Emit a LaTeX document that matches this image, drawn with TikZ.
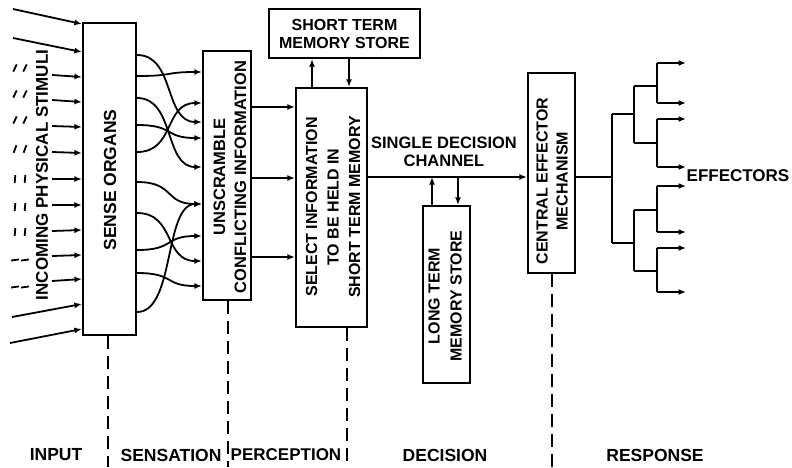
\documentclass[tikz,border=0pt]{standalone}
\usepackage{fontspec}
\setmainfont{Liberation Sans}
\usetikzlibrary{arrows.meta,calc}
\begin{document}
\begin{tikzpicture}[x=1pt,y=1pt,
  wire/.style={line width=1.8pt},
  arr/.style={wire,-{Latex[length=7.5pt,width=6pt]}},
  box/.style n args={2}{draw,line width=2.2pt,inner sep=0pt,minimum width=#1pt,minimum height=#2pt},
  txt/.style={font=\bfseries\fontsize{16}{20}\selectfont,align=center,inner sep=0pt},
  vtxt/.style={txt,rotate=90},
  lab/.style={font=\bfseries\fontsize{17.5}{22}\selectfont,inner sep=0pt},
  phase/.style={line width=1.6pt,dash pattern=on 13pt off 7pt},
  tick/.style={line width=1.8pt}
]
\fill[white] (0,0) rectangle (792,-467);
\useasboundingbox (0,0) rectangle (792,-467);

% boxes
\node[box={53}{312}] (sense) at (109.5,-179) {};
\node[box={48}{249}] (unscr) at (227,-175.5) {};
\node[box={151}{49}] (stm) at (344.5,-33.5) {};
\node[box={71}{239}] (sel) at (331.5,-207.5) {};
\node[box={47}{177}] (ltm) at (446.5,-294.5) {};
\node[box={47}{200}] (cem) at (551.5,-173) {};

% box texts
\node[vtxt,font=\bfseries\fontsize{17.5}{21}\selectfont] (tsense) at (110,-180) {SENSE ORGANS};
\node[vtxt,font=\bfseries\fontsize{16.5}{21}\selectfont] (tunscr) at (230,-177) {UNSCRAMBLE\\CONFLICTING INFORMATION};
\node[txt,font=\bfseries\fontsize{16}{18}\selectfont] (tstm) at (344.5,-34) {SHORT TERM\\MEMORY STORE};
\node[vtxt,font=\bfseries\fontsize{16}{21.5}\selectfont] (tsel) at (333,-207) {SELECT INFORMATION\\TO BE HELD IN\\SHORT TERM MEMORY};
\node[vtxt,font=\bfseries\fontsize{16}{22}\selectfont] (tltm) at (445,-296) {LONG TERM\\MEMORY STORE};
\node[vtxt,font=\bfseries\fontsize{16}{20}\selectfont] (tcem) at (552,-181) {CENTRAL EFFECTOR\\MECHANISM};
\node[vtxt,font=\bfseries\fontsize{17}{20}\selectfont] (tin) at (42,-175) {INCOMING PHYSICAL STIMULI};
\node[txt,font=\bfseries\fontsize{16.5}{18}\selectfont] (tchan) at (444,-152) {SINGLE DECISION\\CHANNEL};
\node[lab,font=\bfseries\fontsize{17}{20}\selectfont] (teff) at (738,-176) {EFFECTORS};

% phase labels
\node[lab] (lin) at (56,-455) {INPUT};
\node[lab] (lsen) at (171,-455) {SENSATION};
\node[lab,font=\bfseries\fontsize{17}{20}\selectfont] (lper) at (286,-455) {PERCEPTION};
\node[lab] (ldec) at (445,-455) {DECISION};
\node[lab] (lres) at (655,-455) {RESPONSE};

% incoming stimuli: long rays
\draw[arr] (13,-9) -- (sense.west |- 0,-24);
\draw[arr] (13,-38) -- (sense.west |- 0,-52);
\draw[arr] (12,-317) -- (sense.west |- 0,-304);
\draw[arr] (10,-343) -- (sense.west |- 0,-329);
% short rays
\foreach \y/\s in {77/75,102/100,127/126,153/152,179/179,205/205,230/231,255/256,279/281}
  \draw[arr] (52,-\s) -- (sense.west |- 0,-\y);
% broken marks left of the text
\foreach \m/\a in {68/65,94/65,120/65,149/70,179/85,207/85,232/85,260/8,287/8}{
  \draw[tick] (15,-\m) ++(\a+180:4) -- ++(\a:8);
  \draw[tick] (25,-\m) ++(\a+180:4) -- ++(\a:8);
}

% tangled links sense organs -> unscramble
\foreach \a/\b in {55/122,76/72,98/167,125/138,152/103,182/204,213/261,250/236,273/286,312/204}
  \draw[arr] (sense.east |- 0,-\a) .. controls +(38,0) and +(-38,0) .. (unscr.west |- 0,-\b);

% unscramble -> select
\foreach \y in {107,178,257}
  \draw[arr] (unscr.east |- 0,-\y) -- (sel.west |- 0,-\y);

% select <-> short term memory
\draw[arr] (sel.north -| 312,0) -- (stm.south -| 312,0);
\draw[arr] (stm.south -| 349,0) -- (sel.north -| 349,0);

% single decision channel
\draw[arr] (sel.east |- 0,-177) -- (cem.west |- 0,-177);
\coordinate (chA) at (432,-177);
\coordinate (chB) at (458,-177);
\draw[arr] (ltm.north -| chA) -- (chA);
\draw[arr] (chB) -- (ltm.north -| chB);

% effector tree
\coordinate (r) at (612,-177);
\draw[wire] (cem.east |- r) -- (r);
\draw[wire] (612,-114) -- (612,-243);
\foreach \y in {114,243} \draw[wire] (612,-\y) -- (634,-\y);
\draw[wire] (634,-86) -- (634,-143);
\draw[wire] (634,-210) -- (634,-271);
\foreach \y in {86,143,210,271} \draw[wire] (634,-\y) -- (657,-\y);
\foreach \a/\b in {63/103,119/167,186/232,248/292}{
  \draw[wire] (657,-\a) -- (657,-\b);
  \coordinate (ea\a) at (686,-\a);
  \coordinate (eb\b) at (686,-\b);
  \draw[arr] (657,-\a) -- (ea\a);
  \draw[arr] (657,-\b) -- (eb\b);
}

% phase dividers
\draw[phase] (sense.south -| 108,0) -- (108,-467);
\draw[phase] (unscr.south -| 228,0) -- (228,-467);
\draw[phase] (sel.south -| 347,0) -- (347,-467);
\draw[phase] (cem.south -| 552,0) -- (552,-467);
\end{tikzpicture}
\end{document}
